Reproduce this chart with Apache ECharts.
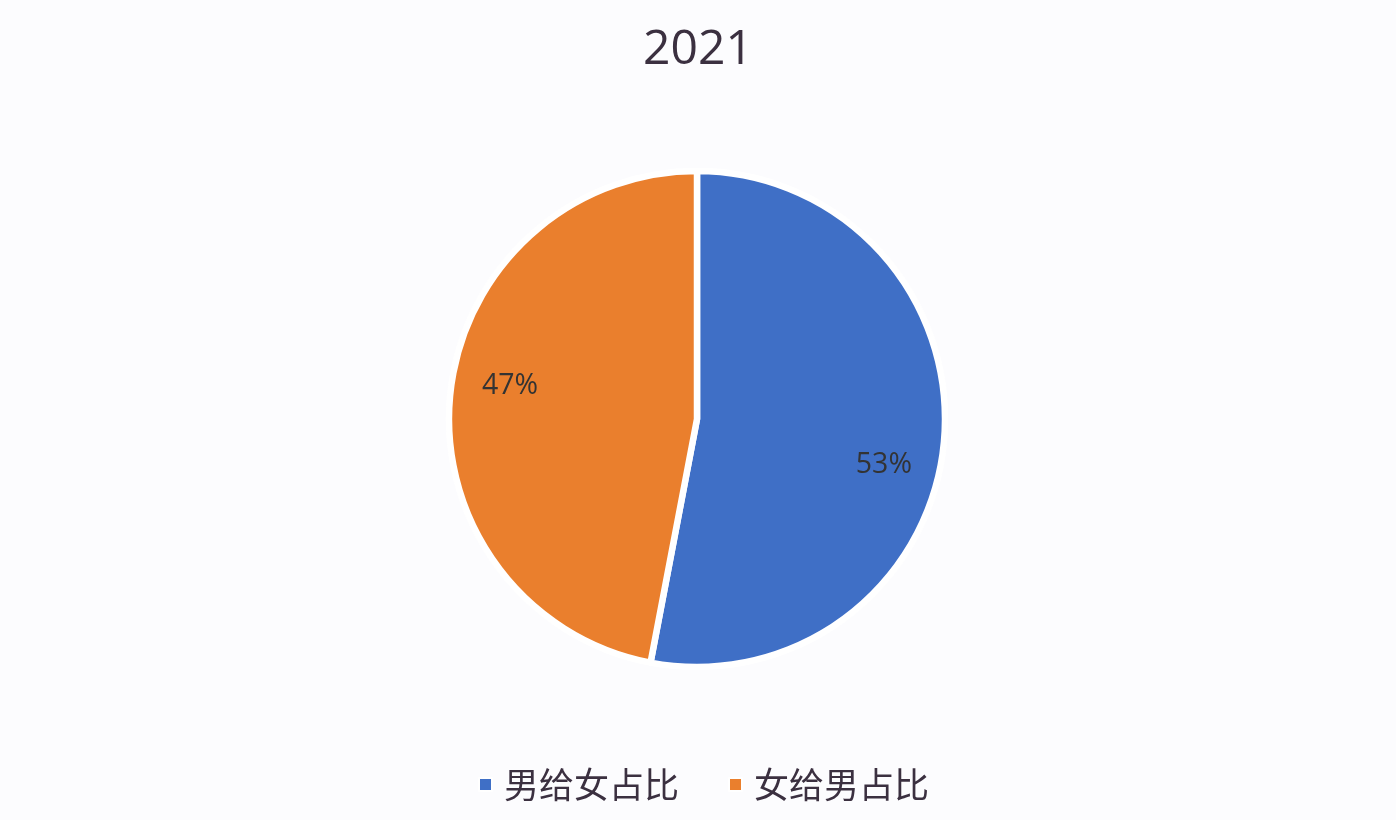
<!DOCTYPE html>
<html>
<head>
<meta charset="utf-8">
<script src="https://cdn.jsdelivr.net/npm/echarts@6/dist/echarts.min.js"></script>
<style>
html,body{margin:0;padding:0;background:#fcfcfe;}
#c{width:1396px;height:820px;}
</style>
</head>
<body>
<div id="c"></div>
<script>
const titleText = '2021';
const categories = ['男给女占比', '女给男占比'];
const values = [53, 47];
const colors = ['#3F6FC6', '#EA7F2D'];

const data = categories.map((name, i) => ({ name: name, value: values[i] }));

const chart = echarts.init(document.getElementById('c'));
chart.setOption({
  backgroundColor: '#fcfcfe',
  animation: false,
  color: colors,
  title: {
    text: titleText,
    left: 'center',
    top: 21,
    textStyle: { fontFamily: 'Open Sans', fontSize: 48, fontWeight: 'normal', color: '#3b3040' }
  },
  legend: {
    data: categories,
    top: 762,
    left: 473,
    icon: 'rect',
    itemWidth: 13,
    itemHeight: 13,
    itemGap: 49,
    textStyle: { fontFamily: 'Noto Sans CJK SC', fontSize: 35, color: '#3b3040', padding: [0, 0, 0, 7] }
  },
  series: [
    {
      type: 'pie',
      center: [697, 419],
      radius: [0, 248],
      startAngle: 90,
      clockwise: true,
      label: { show: false },
      labelLine: { show: false },
      itemStyle: { borderColor: '#ffffff', borderWidth: 6.5 },
      emphasis: { disabled: true },
      data: data
    },
    {
      type: 'pie',
      center: [697, 425],
      radius: [128, 248],
      startAngle: 83.5,
      clockwise: true,
      silent: true,
      legendHoverLink: false,
      itemStyle: { color: 'rgba(0,0,0,0)' },
      label: {
        show: true,
        position: 'inside',
        formatter: '{c}%',
        fontFamily: 'Open Sans',
        fontSize: 28.5,
        color: '#333333'
      },
      labelLine: { show: false },
      emphasis: { disabled: true },
      data: data
    }
  ]
});
</script>
</body>
</html>
